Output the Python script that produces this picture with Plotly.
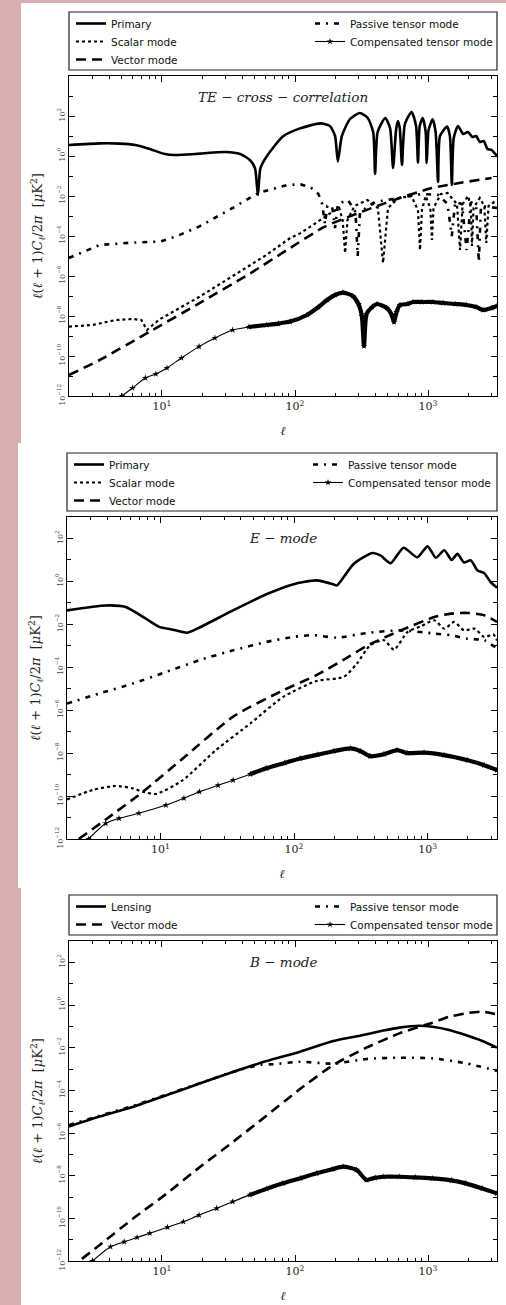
import plotly.graph_objects as go

# ---------------- DATA (multipole ell, log10 of l(l+1)C_l/2pi in uK^2) ----------------
# TE cross-correlation
te_primary_l = [2, 3.4, 4.8, 6.3, 8.1, 10.5, 12.5, 19.4, 29.8, 38.7, 45.8, 50, 52.6, 55, 61.6, 81, 109, 155, 183,
                200, 210, 225, 259, 307, 352, 387, 400, 418, 477, 518, 546, 575, 593, 613, 637, 670, 753, 813, 840,
                866, 912, 960, 977, 1010, 1084, 1140, 1190, 1230, 1390, 1460, 1510, 1560, 1680, 1840, 2000, 2150,
                2300, 2450, 2620, 2800, 3000, 3300]
te_primary_v = [0.55, 0.63, 0.62, 0.55, 0.35, 0.1, 0.05, 0.12, 0.2, 0.1, -0.2, -0.6, -1.95, -0.6, 0.0, 0.97, 1.38,
                1.63, 1.5, 1.0, -0.28, 1.0, 1.85, 2.15, 1.9, 1.2, -0.9, 1.2, 1.9, 1.4, -0.6, 1.3, 1.75, 1.4, -0.45,
                1.6, 2.2, 1.5, -0.33, 1.5, 1.9, 1.2, -0.35, 1.3, 1.83, 1.2, -1.3, 1.0, 1.47, 1.0, -1.45, 0.9, 1.5,
                1.1, 1.2, 0.95, 1.0, 0.7, 0.75, 0.35, 0.3, 0.0]

te_scalar_l = [2, 3.0, 4.5, 6.0, 7.0, 7.7, 8.5, 9.7, 19, 34, 61, 92, 109, 140, 180, 215, 228, 238, 248, 280, 350,
               420, 459, 500, 600, 750, 840, 870, 900, 960, 1040, 1070, 1100, 1250, 1400, 1650, 1740, 1820, 2000,
               2100, 2140, 2200, 2450, 2650, 2740, 2850, 3300]
te_scalar_v = [-8.53, -8.45, -8.2, -8.15, -8.2, -8.7, -8.45, -8.15, -7.05, -6.0, -4.95, -4.1, -3.87, -3.4, -2.9,
               -2.6, -3.2, -4.85, -3.2, -2.5, -2.2, -2.6, -5.35, -2.6, -2.1, -2.0, -2.7, -4.7, -2.7, -2.0, -2.6,
               -4.2, -2.6, -1.9, -1.85, -2.4, -4.7, -2.4, -2.0, -2.6, -4.5, -2.6, -2.1, -2.5, -4.35, -2.5, -2.2]

te_vector_l = [2, 3.4, 8.1, 19, 46, 87, 168, 470, 1070, 3000]
te_vector_v = [-10.95, -10.2, -8.78, -7.37, -5.87, -4.7, -3.53, -2.37, -1.6, -1.1]

te_passive_l = [2, 3.4, 6.0, 9.7, 13, 19, 34, 53, 87, 110, 130, 150, 160, 168, 175, 190, 200, 210, 250, 285, 296,
                308, 400, 600, 900, 1200, 1400, 1510, 1600, 1800, 1950, 2100, 2300, 2410, 2500, 3300]
te_passive_v = [-5.1, -4.45, -4.33, -4.28, -4.0, -3.53, -2.6, -1.85, -1.45, -1.42, -1.55, -1.9, -2.4, -3.4, -2.5,
                -2.5, -3.6, -2.4, -2.2, -2.8, -5.0, -2.8, -2.3, -2.1, -1.9, -1.95, -2.4, -4.0, -2.3, -2.4, -4.7,
                -2.3, -2.5, -5.3, -2.5, -2.6]

te_comp_l = [5.0, 6.0, 7.5, 9.0, 10.9, 14, 19, 25, 34, 45, 61, 75, 92, 123, 150, 174, 200, 229, 272, 300, 318, 330,
             345, 380, 414, 490, 530, 555, 580, 615, 700, 770, 900, 1090, 1300, 1600, 1950, 2300, 2600, 3000, 3300]
te_comp_v = [-12.0, -11.6, -11.1, -10.9, -10.6, -10.1, -9.53, -9.1, -8.7, -8.55, -8.45, -8.38, -8.28, -7.95, -7.55,
             -7.2, -6.95, -6.83, -7.0, -7.4, -8.0, -9.5, -7.9, -7.55, -7.4, -7.6, -7.9, -8.3, -7.8, -7.45, -7.4,
             -7.3, -7.3, -7.3, -7.35, -7.4, -7.45, -7.55, -7.7, -7.6, -7.5]

# E-mode
e_primary_l = [2, 3.9, 5.5, 7.8, 9.8, 12.4, 15.9, 19.6, 34.9, 62, 98, 147, 198, 209, 280, 385, 443, 527, 660, 835,
               998, 1150, 1330, 1510, 1670, 1870, 2100, 2360, 2640, 2960, 3300]
e_primary_v = [-1.35, -1.12, -1.19, -1.74, -2.12, -2.25, -2.39, -2.15, -1.35, -0.6, -0.14, 0.05, -0.14, -0.19, 0.82,
               1.32, 1.21, 0.85, 1.57, 1.12, 1.63, 1.1, 1.45, 1.0, 1.28, 0.88, 0.98, 0.51, 0.39, -0.03, -0.29]

e_scalar_l = [2, 3.1, 4.6, 6.2, 7.4, 9.3, 14.7, 26, 47, 83, 147, 235, 295, 370, 470, 560, 705, 890, 1120, 1330,
              1580, 1870, 2240, 2650, 3100, 3300]
e_scalar_v = [-10.16, -9.72, -9.53, -9.64, -9.8, -9.9, -9.26, -7.86, -6.62, -5.38, -4.64, -4.45, -3.83, -2.98,
              -2.74, -3.18, -2.36, -2.09, -1.81, -2.2, -1.89, -2.28, -2.2, -2.59, -2.47, -2.75]

e_vector_l = [2.45, 3.9, 7.4, 14.7, 35, 83, 147, 250, 355, 630, 1120, 1490, 1990, 2650, 3300]
e_vector_v = [-12.0, -11.09, -9.8, -8.25, -6.3, -5.07, -4.37, -3.55, -2.98, -2.28, -1.66, -1.5, -1.47, -1.58, -1.89]

e_passive_l = [2, 3.5, 6.2, 11, 19.6, 35, 62, 98, 138, 209, 355, 630, 1120, 1490, 1990, 2650, 3300]
e_passive_v = [-5.69, -5.22, -4.76, -4.22, -3.67, -3.21, -2.82, -2.59, -2.5, -2.62, -2.4, -2.28, -2.43, -2.51, -2.67,
               -2.74, -3.13]

e_comp_l = [2.9, 3.9, 4.9, 6.9, 11, 15, 19.6, 27, 35, 47, 62, 85, 111, 150, 198, 265, 315, 370, 470, 590, 705, 940,
            1330, 1990, 2650, 3300]
e_comp_v = [-12.0, -11.27, -11.04, -10.8, -10.42, -10.1, -9.8, -9.5, -9.26, -8.98, -8.71, -8.46, -8.25, -8.07,
            -7.91, -7.78, -7.91, -8.14, -8.05, -7.86, -8.0, -7.98, -8.09, -8.33, -8.56, -8.79]

# B-mode
b_lensing_l = [2, 3.4, 6.1, 10.9, 19.4, 34.5, 61, 109, 194, 307, 460, 610, 860, 1080, 1440, 1920, 2560, 3300]
b_lensing_v = [-5.7, -5.23, -4.77, -4.22, -3.67, -3.13, -2.63, -2.19, -1.69, -1.44, -1.2, -1.06, -0.97, -1.02, -1.17,
               -1.41, -1.69, -2.0]

b_vector_l = [2.5, 3.4, 6.1, 10.9, 19.4, 34.5, 61, 109, 194, 344, 610, 1080, 1440, 1920, 2560, 3300]
b_vector_v = [-11.9, -11.25, -10.0, -8.83, -7.58, -6.4, -5.19, -3.94, -2.81, -2.0, -1.33, -0.83, -0.55, -0.39, -0.31,
              -0.44]

b_passive_l = [2, 3.4, 6.1, 10.9, 19.4, 34.5, 55, 68, 109, 194, 344, 610, 1080, 1920, 3300]
b_passive_v = [-5.63, -5.19, -4.72, -4.19, -3.66, -3.13, -2.8, -2.78, -2.66, -2.75, -2.53, -2.47, -2.5, -2.73, -3.09]

b_comp_l = [3.0, 4.1, 5.2, 6.5, 8.1, 11, 14.5, 19, 25.8, 34, 45.8, 61, 81, 110, 145, 190, 230, 290, 344, 400, 460,
            610, 800, 1080, 1500, 1920, 2560, 3300]
b_comp_v = [-12.0, -11.33, -11.1, -10.9, -10.7, -10.42, -10.16, -9.85, -9.53, -9.22, -8.9, -8.62, -8.36, -8.12,
            -7.89, -7.7, -7.58, -7.73, -8.2, -8.1, -8.05, -8.05, -8.08, -8.13, -8.22, -8.36, -8.6, -8.83]

# Axis ticks
x_tick_vals = [10, 100, 1000]
x_tick_text = ["10<sup>1</sup>", "10<sup>2</sup>", "10<sup>3</sup>"]
y_tick_exps = [-12, -10, -8, -6, -4, -2, 0, 2]
panel_titles = ["<i>TE</i> − <i>cross</i> − <i>correlation</i>", "<i>E</i> − <i>mode</i>", "<i>B</i> − <i>mode</i>"]

# ---------------- LAYOUT GEOMETRY ----------------
W, H = 506, 1305
PINK = "#d8aeb0"


def px_x(x):
    return x / W


def px_y(y):
    return 1 - y / H


fig = go.Figure()

line_styles = {
    "primary": dict(color="black", width=2.6, dash="solid"),
    "scalar": dict(color="black", width=2.2, dash="dot"),
    "vector": dict(color="black", width=2.6, dash="10px,6px"),
    "passive": dict(color="black", width=2.6, dash="5px,6px,2px,6px"),
    "comp": dict(color="black", width=1.1, dash="solid"),
}

COMP_THICK_FROM = 40  # ell above which the dense star markers merge into a thick band
legend_counter = [0]


def next_legend():
    legend_counter[0] += 1
    n = legend_counter[0]
    return "legend" if n == 1 else f"legend{n}"


legend_slots = []  # (legend name, panel index, column, row y px)


def add(xs, logv, name, style, axis, col, row_y, smooth=True):
    xa = "x" if axis == 1 else f"x{axis}"
    ya = "y" if axis == 1 else f"y{axis}"
    ys = [10 ** v for v in logv]
    leg = next_legend()
    legend_slots.append((leg, axis - 1, col, row_y))
    shape = dict(shape="spline", smoothing=0.6) if smooth else {}
    if style == "comp":
        xs_t = [x for x in xs if x >= COMP_THICK_FROM]
        ys_t = [y for x, y in zip(xs, ys) if x >= COMP_THICK_FROM]
        fig.add_trace(go.Scatter(
            x=xs_t, y=ys_t, mode="lines", name=name, showlegend=False, hoverinfo="skip",
            line=dict(color="black", width=4.2, **shape), xaxis=xa, yaxis=ya, legend=leg))
        fig.add_trace(go.Scatter(
            x=xs, y=ys, mode="lines+markers", name=name,
            marker=dict(symbol="star", size=5, color="black"),
            line=dict(**line_styles[style], **shape), xaxis=xa, yaxis=ya, legend=leg))
        return
    fig.add_trace(go.Scatter(
        x=xs, y=ys, mode="lines", name=name,
        line=dict(**line_styles[style], **shape), xaxis=xa, yaxis=ya, legend=leg))


# Panel 1
add(te_primary_l, te_primary_v, "Primary", "primary", 1, 0, 22)
add(te_scalar_l, te_scalar_v, "Scalar mode", "scalar", 1, 0, 40, smooth=False)
add(te_vector_l, te_vector_v, "Vector mode", "vector", 1, 0, 58)
add(te_passive_l, te_passive_v, "Passive tensor mode", "passive", 1, 1, 22, smooth=False)
add(te_comp_l, te_comp_v, "Compensated tensor mode", "comp", 1, 1, 40)
# Panel 2
add(e_primary_l, e_primary_v, "Primary", "primary", 2, 0, 463)
add(e_scalar_l, e_scalar_v, "Scalar mode", "scalar", 2, 0, 481)
add(e_vector_l, e_vector_v, "Vector mode", "vector", 2, 0, 499)
add(e_passive_l, e_passive_v, "Passive tensor mode", "passive", 2, 1, 463)
add(e_comp_l, e_comp_v, "Compensated tensor mode", "comp", 2, 1, 481)
# Panel 3
add(b_lensing_l, b_lensing_v, "Lensing", "primary", 3, 0, 905)
add(b_vector_l, b_vector_v, "Vector mode", "vector", 3, 0, 923)
add(b_passive_l, b_passive_v, "Passive tensor mode", "passive", 3, 1, 905)
add(b_comp_l, b_comp_v, "Compensated tensor mode", "comp", 3, 1, 923)

panels = [
    dict(plot=(69, 497, 76, 396), leg=(69, 497, 12, 70), ytop=4, title_y=97),
    dict(plot=(67, 497, 517, 839), leg=(67, 497, 453, 511), ytop=3, title_y=538),
    dict(plot=(69, 497, 941, 1261), leg=(69, 497, 895, 935), ytop=3, title_y=962),
]

minor_x = [m * 10 ** d for d in range(0, 4) for m in range(2, 10) if 2 <= m * 10 ** d <= 3300]

SERIF = "DejaVu Serif"
SANS = "DejaVu Sans"

# pink surround as one stepped polygon (left margin + thin top strip), in paper coordinates
pink_outline = [(0, 0), (506, 0), (506, 3), (21, 3), (21, 443), (18, 443), (18, 888), (21, 888), (21, 1305),
                (0, 1305)]
pink_path = "M " + " L ".join(f"{px_x(x):.5f},{px_y(y):.5f}" for x, y in pink_outline) + " Z"
shapes = [dict(type="path", xref="paper", yref="paper", path=pink_path, fillcolor=PINK,
               line=dict(width=0), layer="below")]
annotations = []
layout = dict(
    width=W, height=H, margin=dict(l=0, r=0, t=0, b=0, pad=0, autoexpand=False),
    paper_bgcolor="white", plot_bgcolor="white", showlegend=True,
)

for i, p in enumerate(panels, start=1):
    x0, x1, y0, y1 = p["plot"]
    sfx = "" if i == 1 else str(i)
    ytv = [10 ** e for e in y_tick_exps]
    ytt = [f"10<sup>{e}</sup>".replace("-", "−") for e in y_tick_exps]
    minor_y = [10 ** e for e in range(-11, p["ytop"] + 1) if e not in y_tick_exps]
    layout["xaxis" + sfx] = dict(
        type="log", domain=[px_x(x0), px_x(x1)], range=[0.301, 3.5185], anchor="y" + sfx, automargin=False,
        tickmode="array", tickvals=x_tick_vals, ticktext=x_tick_text, ticks="inside", ticklen=6,
        tickcolor="black", mirror="ticks", showline=True, linecolor="black", linewidth=1.2,
        showgrid=False, zeroline=False, tickfont=dict(family=SERIF, size=11, color="#222"),
        minor=dict(tickmode="array", tickvals=minor_x, ticks="inside", ticklen=3, tickcolor="black",
                   showgrid=False),
        title=dict(text="<i>ℓ</i>", font=dict(family=SERIF, size=12, color="#222"), standoff=14),
    )
    layout["yaxis" + sfx] = dict(
        type="log", domain=[px_y(y1), px_y(y0)], range=[-12, p["ytop"]], anchor="x" + sfx, automargin=False,
        tickmode="array", tickvals=ytv, ticktext=ytt, ticks="inside", ticklen=6, tickangle=-90,
        tickcolor="black", mirror="ticks", showline=True, linecolor="black", linewidth=1.2,
        showgrid=False, zeroline=False, tickfont=dict(family=SERIF, size=8, color="#444"),
        minor=dict(tickmode="array", tickvals=minor_y, ticks="inside", ticklen=4, tickcolor="black",
                   showgrid=False),
        title=dict(text="<i>ℓ</i>(<i>ℓ</i> + 1)<i>C<sub>ℓ</sub></i>/2<i>π</i>  [<i>μ</i>K<sup>2</sup>]",
                   font=dict(family=SERIF, size=13, color="#222"), standoff=10),
    )
    lx0, lx1, ly0, ly1 = p["leg"]
    shapes.append(dict(type="rect", xref="paper", yref="paper", x0=px_x(lx0), x1=px_x(lx1), y0=px_y(ly1),
                       y1=px_y(ly0), line=dict(color="#222", width=1.2), fillcolor="rgba(0,0,0,0)"))
    annotations.append(dict(text=panel_titles[i - 1], xref="paper", yref="paper", x=px_x(283),
                            y=px_y(p["title_y"]), showarrow=False,
                            font=dict(family=SERIF, size=13.5, color="#222"),
                            xanchor="center", yanchor="middle"))

common = dict(orientation="v", bgcolor="rgba(0,0,0,0)", borderwidth=0, xanchor="left", yanchor="middle",
              font=dict(family=SANS, size=10.5, color="#111"), itemwidth=30, tracegroupgap=0)
for name, pidx, col, row_y in legend_slots:
    lx0 = panels[pidx]["leg"][0]
    xoff = 2 if col == 0 else 241
    layout[name] = dict(x=px_x(lx0 + xoff), y=px_y(row_y + 1.5), **common)

layout["shapes"] = shapes
layout["annotations"] = annotations
fig.update_layout(**layout)

fig.write_html("out.html")
